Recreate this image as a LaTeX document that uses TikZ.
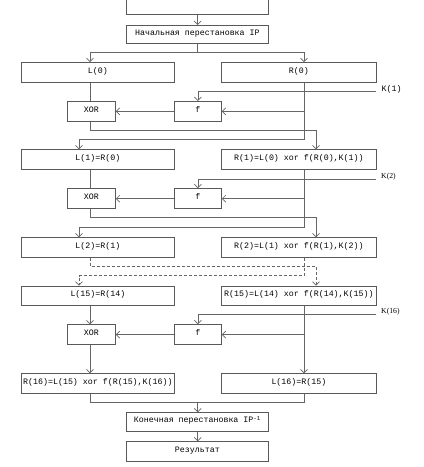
\documentclass[tikz,border=0pt]{standalone}
\usepackage{fontspec}
\newfontfamily\monofnt{Liberation Mono}
\newfontfamily\seriffnt{Liberation Serif}
\usetikzlibrary{arrows.meta}
\begin{document}
\begin{tikzpicture}[x=1pt,y=-1pt,
  ln/.style={draw=black!60,line width=0.7pt},
  arr/.style={ln,-{Straight Barb[length=3.5pt,width=7pt,line width=0.7pt]}},
  dsh/.style={dash pattern=on 3pt off 2pt},
  blk/.style={draw=black!65,line width=0.8pt,inner sep=0pt,anchor=north west,
    font=\monofnt\fontsize{8.3}{10}\selectfont,text height=6pt,text depth=4.5pt},
  klab/.style={anchor=west,inner sep=0pt}]
\useasboundingbox (0,0) rectangle (424,467);
\clip (0,0) rectangle (424,467);
% column coordinates
\coordinate (cl) at (90,0);
\coordinate (cr) at (304,0);
\coordinate (cld) at (79,0);
\coordinate (crd) at (316,0);
\coordinate (cc) at (197.7,0);
% boxes
\node[blk,minimum width=142,minimum height=24] (top) at (126,-10) {};
\node[blk,minimum width=142,minimum height=18] (IP) at (126,25) {Начальная перестановка IP};
\node[blk,minimum width=153,minimum height=20] (L0) at (21,62) {L(0)};
\node[blk,minimum width=155,minimum height=20] (R0) at (221,62) {R(0)};
\node[blk,minimum width=48,minimum height=20] (X1) at (67,101) {XOR};
\node[blk,minimum width=47,minimum height=20] (F1) at (174,101) {f};
\node[blk,minimum width=153,minimum height=20] (L1) at (21,149.3) {L(1)=R(0)};
\node[blk,minimum width=155,minimum height=20] (R1) at (221,149.3) {R(1)=L(0) xor f(R(0),K(1))};
\node[blk,minimum width=48,minimum height=20] (X2) at (67,188.3) {XOR};
\node[blk,minimum width=47,minimum height=20] (F2) at (174,188.3) {f};
\node[blk,minimum width=153,minimum height=19.7] (L2) at (21,237.3) {L(2)=R(1)};
\node[blk,minimum width=155,minimum height=19.7] (R2) at (221,237.3) {R(2)=L(1) xor f(R(1),K(2))};
\node[blk,minimum width=153,minimum height=19.3] (L15) at (21,285.7) {L(15)=R(14)};
\node[blk,minimum width=155,minimum height=19.3] (R15) at (221,285.7) {R(15)=L(14) xor f(R(14),K(15))};
\node[blk,minimum width=48,minimum height=19.7] (X3) at (67,324.3) {XOR};
\node[blk,minimum width=47,minimum height=19.7] (F3) at (174,324.3) {f};
\node[blk,minimum width=153,minimum height=19.4] (R16) at (21,373.3) {R(16)=L(15) xor f(R(15),K(16))};
\node[blk,minimum width=155,minimum height=19.4] (L16) at (221,373.3) {L(16)=R(15)};
\node[blk,minimum width=142,minimum height=19] (IP2) at (126,412.3) {Конечная перестановка IP\textsuperscript{-1}};
\node[blk,minimum width=142,minimum height=19.4] (Res) at (126,441.3) {Результат};
% key inputs
\coordinate (k1) at (376,91.7);
\coordinate (k2) at (376,179);
\coordinate (k16) at (376,314.3);
\node[klab,font=\monofnt\fontsize{8.3}{10}\selectfont] (K1) at (381.5,89) {K(1)};
\node[klab,font=\seriffnt\fontsize{7.7}{9}\selectfont] (K2) at (381,176.3) {K(2)};
\node[klab,font=\seriffnt\fontsize{7.7}{9}\selectfont] (K16) at (381,312) {K(16)};
% helper coordinates
\coordinate (s0) at (197.7,52);
\coordinate (d1) at (79,139);
\coordinate (e1) at (316,130.7);
\coordinate (d2) at (79,227.3);
\coordinate (e2) at (316,217.7);
\coordinate (g1) at (316,266);
\coordinate (g2) at (79,275.7);
\coordinate (m) at (197.7,402.3);
% top part
\draw[arr] (top.south -| cc) -- (IP.north -| cc);
\draw[ln] (IP.south -| cc) -- (s0);
\draw[arr] (s0) -| (L0.north -| cl);
\draw[arr] (s0) -| (R0.north -| cr);
% round 1
\draw[arr] (k1) -| (F1.north);
\draw[ln] (L0.south -| cl) -- (X1.north -| cl);
\draw[arr] (F1.east -| cr) -- (F1.east);
\draw[arr] (F1.west) -- (X1.east);
\draw[arr] (R0.south -| cr) |- (d1) -- (L1.north -| cld);
\draw[arr] (X1.south -| cl) |- (e1) -- (R1.north -| crd);
% round 2
\draw[arr] (k2) -| (F2.north);
\draw[ln] (L1.south -| cl) -- (X2.north -| cl);
\draw[arr] (F2.east -| cr) -- (F2.east);
\draw[arr] (F2.west) -- (X2.east);
\draw[arr] (R1.south -| cr) |- (d2) -- (L2.north -| cld);
\draw[arr] (X2.south -| cl) |- (e2) -- (R2.north -| crd);
% dashed skip
\draw[arr,dsh] (L2.south -| cl) |- (g1) -- (R15.north -| crd);
\draw[arr,dsh] (R2.south -| cr) |- (g2) -- (L15.north -| cld);
% round 16
\draw[arr] (k16) -| (F3.north);
\draw[arr] (L15.south -| cl) -- (X3.north -| cl);
\draw[arr] (F3.east -| cr) -- (F3.east);
\draw[arr] (F3.west) -- (X3.east);
\draw[arr] (X3.south -| cl) -- (R16.north -| cl);
\draw[arr] (R15.south -| cr) -- (L16.north -| cr);
% final
\draw[ln] (R16.south -| cl) |- (m) -| (L16.south -| cr);
\draw[arr] (m) -- (IP2.north -| cc);
\draw[arr] (IP2.south -| cc) -- (Res.north -| cc);
\end{tikzpicture}
\end{document}
